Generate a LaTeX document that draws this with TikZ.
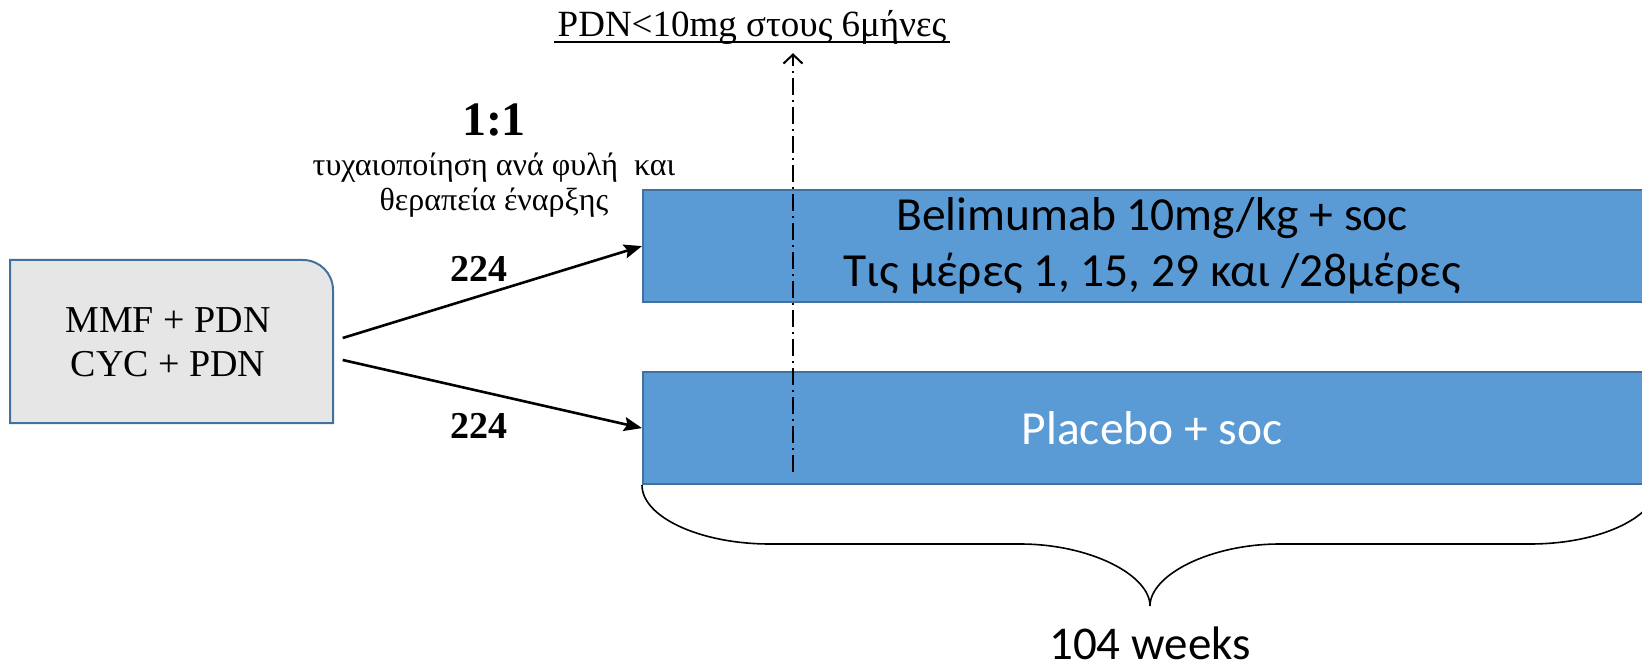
\documentclass[tikz,border=0pt]{standalone}
\usepackage{fontspec}
\setmainfont{Liberation Serif}
\newfontfamily\bodysans{Carlito}
\usetikzlibrary{arrows.meta,calc}
\definecolor{armfill}{HTML}{5B9BD5}
\definecolor{armedge}{HTML}{41719C}
\definecolor{startfill}{HTML}{E7E6E6}
\begin{document}
\begin{tikzpicture}[x=1pt,y=-1pt,
  armbox/.style={draw=armedge, line width=2.2pt, fill=armfill, inner sep=0pt,
    minimum width=1018pt, minimum height=112pt, anchor=north west,
    align=center, font=\bodysans\fontsize{47.5}{56}\selectfont},
  conn/.style={line width=2.6pt, -{Stealth[length=18pt,width=14pt,inset=3pt]}},
  milestone/.style={line width=2pt, dash pattern=on 17pt off 5pt on 2pt off 5pt,
    -{Straight Barb[length=9pt,width=19pt,line width=2pt]}},
  countlabel/.style={font=\bfseries\fontsize{38}{40}\selectfont, anchor=base},
  bracepath/.style={line width=1.6pt}
]
\useasboundingbox (0,0) rectangle (1642,671);

% starting-therapy box, rounded only at the top-right corner
\draw[draw=armedge, line width=2pt, fill=startfill]
  (10,423) -- (10,260) -- (303,260)
  .. controls (319.6,260) and (333,273.4) .. (333,290)
  -- (333,423) -- cycle;
\node[inner sep=0pt, minimum width=323pt, minimum height=163pt, align=center,
      font=\fontsize{38}{44}\selectfont] (start) at (168,342)
  {MMF + PDN\\CYC + PDN};

% treatment arms
\node[armbox] (bel) at (642,189) {Belimumab 10mg/kg + soc\\Τις μέρες 1, 15, 29 και /28μέρες};
\node[armbox, text=white] (plac) at (642,371) {Placebo + soc};

% randomisation
\node[font=\bfseries\fontsize{48}{50}\selectfont, anchor=base] (ratio) at (494,136) {1:1};
\node[font=\fontsize{32}{35}\selectfont, align=center, anchor=base] (strat) at (494,211)
  {τυχαιοποίηση ανά φυλή\ \ και\\θεραπεία έναρξης};
\node[countlabel] (n1) at (479,281) {224};
\node[countlabel] (n2) at (479,438) {224};

\draw[conn] ($(start.east)+(13,-4)$) -- (bel.west);
\draw[conn] ($(start.east)+(13,18)$) -- (plac.west);

% steroid-taper milestone
\node[font=\fontsize{37}{40}\selectfont, anchor=base, inner ysep=8pt] (goal) at (752,37)
  {PDN<10mg στους 6μήνες};
\draw[line width=1.7pt] ([yshift=-5pt]goal.base west) -- ([yshift=-5pt]goal.base east);
\coordinate (sixmonths) at (793,472);
\draw[milestone] (sixmonths) -- (sixmonths |- goal.south);

% treatment duration brace
\draw[bracepath] (plac.south west)
  .. controls (642,516.7) and (699.3,544) .. (770,544) -- (1020,544)
  .. controls (1090,544) and (1150,575) .. (1150,606)
  .. controls (1150,575) and (1210,544) .. (1280,544) -- (1530,544)
  .. controls (1600.7,544) and (1658,516.7) .. (1658,483);
\node[font=\bodysans\fontsize{47}{50}\selectfont, anchor=base, inner sep=0pt] (dur) at (1150,659) {104 weeks};
\end{tikzpicture}
\end{document}
